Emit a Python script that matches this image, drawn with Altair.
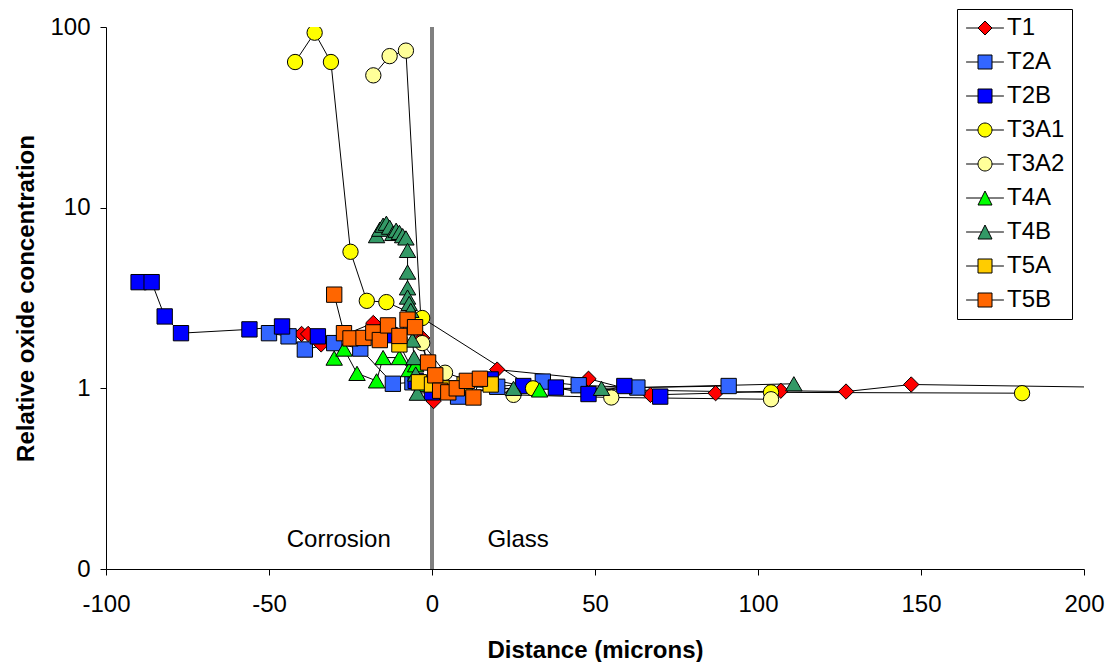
import altair as alt
import pandas as pd

series = ["T1", "T2A", "T2B", "T3A1", "T3A2", "T4A", "T4B", "T5A", "T5B"]
colors = ["#FF0000", "#3366FF", "#0000FF", "#FFFF00", "#FFFF99", "#00FF00", "#339966", "#FFCC00", "#FF6600"]
shapes = ["diamond", "square", "square", "circle", "circle", "triangle-up", "triangle-up", "square", "square"]

T1_x = [-40, -38, -34, -18, -3, 0.5, 20, 48, 67, 87, 107, 127, 147, 230]
T1_y = [2.0, 2.0, 1.75, 2.3, 1.9, 0.85, 1.27, 1.13, 0.92, 0.94, 0.97, 0.96, 1.05, 1.0]
T2A_x = [-50, -44, -39, -30, -22, -12, -6, 8, 20, 34, 45, 63, 91]
T2A_y = [2.02, 1.94, 1.64, 1.78, 1.66, 1.06, 1.08, 0.9, 1.02, 1.09, 1.04, 1.01, 1.03]
T2B_x = [-90, -86, -82, -77, -56, -46, -35, -13, -5, 0, 18, 28, 38, 48, 59, 70]
T2B_y = [3.87, 3.87, 2.5, 2.02, 2.12, 2.2, 1.94, 1.97, 1.1, 0.95, 1.12, 1.03, 1.01, 0.93, 1.03, 0.9]
T3A1_x = [-42, -36, -31, -25, -20, -14, -3, 31, 104, 181]
T3A1_y = [64, 93, 64, 5.7, 3.05, 3.0, 2.45, 1.0, 0.95, 0.94]
T3A2_x = [-18, -13, -8, -3, 4, 25, 55, 104]
T3A2_y = [54, 69, 74, 1.78, 1.22, 0.92, 0.89, 0.87]
T4A_x = [-30, -27, -23, -17, -15, -10, -7, -5, -3, 33]
T4A_y = [1.47, 1.65, 1.21, 1.1, 1.48, 1.48, 1.27, 1.35, 1.05, 0.98]
T4B_x = [-17, -16, -15, -14, -13, -12, -11, -10, -9, -8, -7.5, -7.5, -7.5, -7.5, -7, -6.5, -6, -5.5, -5, -4.5, 25, 52, 111]
T4B_y = [7.0, 7.6, 8.0, 8.2, 7.8, 7.2, 7.5, 7.3, 7.0, 6.8, 5.8, 4.4, 3.6, 3.2, 2.95, 2.7, 1.85, 1.48, 1.2, 0.94, 1.0, 1.0, 1.06]
T5A_x = [-10, -4, 0, 5, 10, 18]
T5A_y = [1.75, 1.08, 1.05, 1.0, 1.05, 1.05]
T5B_x = [-30, -27, -25, -21, -18, -16, -13.5, -10, -7.5, -5.2, -1.2, 1, 2.5, 5, 7.6, 10.7, 12.7, 14.7]
T5B_y = [3.3, 2.02, 1.89, 1.9, 2.04, 1.85, 2.23, 1.95, 2.4, 2.18, 1.39, 1.18, 0.97, 0.95, 1.0, 1.1, 0.89, 1.13]

ann_x = [-28.6, 26.4]
ann_y = [0.144, 0.144]
ann_text = ["Corrosion", "Glass"]

data_xy = {
    "T1": (T1_x, T1_y), "T2A": (T2A_x, T2A_y), "T2B": (T2B_x, T2B_y),
    "T3A1": (T3A1_x, T3A1_y), "T3A2": (T3A2_x, T3A2_y), "T4A": (T4A_x, T4A_y),
    "T4B": (T4B_x, T4B_y), "T5A": (T5A_x, T5A_y), "T5B": (T5B_x, T5B_y),
}
rows = []
for s in series:
    xs, ys = data_xy[s]
    for i, (a, b) in enumerate(zip(xs, ys)):
        rows.append({"series": s, "x": a, "y": b, "i": i, "sz": 270 if "T4" in s else 235})
df = pd.DataFrame(rows)
ann = pd.DataFrame({"x": ann_x, "y": ann_y, "t": ann_text})
zero = pd.DataFrame({"x": [0]})

FONT = "Liberation Sans"

xscale = alt.Scale(domain=[-100, 200], nice=False, zero=False)
yscale = alt.Scale(type="log", domain=[0.1, 100], nice=False)

xenc = alt.X("x:Q", scale=xscale, axis=alt.Axis(
    title="Distance (microns)", values=[-100, -50, 0, 50, 100, 150, 200], grid=False,
    labelExpr="datum.value < 0 ? '-' + abs(datum.value) : '' + datum.value",
    labelFont=FONT, labelFontSize=24, titleFont=FONT, titleFontSize=24, titleFontWeight="bold",
    labelColor="black", titleColor="black", domainColor="black", tickColor="black",
    tickSize=6, labelPadding=17, titlePadding=22, labelFlush=False))
yenc = alt.Y("y:Q", scale=yscale, axis=alt.Axis(
    title="Relative oxide concentration", values=[0.1, 1, 10, 100], grid=False,
    labelExpr="datum.value < 0.5 ? '0' : format(datum.value, 'd')",
    labelFont=FONT, labelFontSize=24, titleFont=FONT, titleFontSize=24, titleFontWeight="bold",
    labelColor="black", titleColor="black", domainColor="black", tickColor="black",
    tickSize=6, labelPadding=10, titlePadding=11, labelFlush=False))

base = alt.Chart(df)

vline = alt.Chart(zero).mark_rule(color="#808080", strokeWidth=4).encode(x=alt.X("x:Q", scale=xscale))

lines = base.mark_line(color="black", strokeWidth=1, clip=True).encode(
    x=xenc, y=yenc, detail="series:N", order="i:Q")

points = base.mark_point(filled=True, stroke="black", strokeWidth=1, opacity=1, clip=True).encode(
    x=alt.X("x:Q", scale=xscale), y=alt.Y("y:Q", scale=yscale),
    fill=alt.Fill("series:N", scale=alt.Scale(domain=series, range=colors), legend=None),
    shape=alt.Shape("series:N", scale=alt.Scale(domain=series, range=shapes), legend=None),
    size=alt.Size("sz:Q", scale=None, legend=None),
)

L = 2.7
p_diamond = f"M-{L},0H-1M1,0H{L}M-1,0L0,-1L1,0L0,1Z"
p_square = f"M-{L},0H-1M1,0H{L}M-1,-1H1V1H-1Z"
p_circle = f"M-{L},0H-1M1,0H{L}M-1,0A1,1,0,1,1,1,0A1,1,0,1,1,-1,0Z"
p_tri = f"M-{L},0H-0.5M0.5,0H{L}M0,-1L1,1H-1Z"
leg_shapes = [p_diamond, p_square, p_square, p_circle, p_circle, p_tri, p_tri, p_square, p_square]

leg = alt.Legend(title=None, orient="none", legendX=851, legendY=-18,
                 strokeColor="black", fillColor="white", padding=7,
                 labelFont=FONT, labelFontSize=24, labelColor="black",
                 symbolSize=196, symbolStrokeColor="black", symbolStrokeWidth=1,
                 rowPadding=10, labelOffset=10, symbolOffset=9)

legend_layer = base.transform_filter("datum.x > 100000").mark_point(
    filled=True, strokeWidth=1, opacity=1, size=196).encode(
    x=alt.X("x:Q", scale=xscale), y=alt.Y("y:Q", scale=yscale),
    fill=alt.Fill("series:N", scale=alt.Scale(domain=series, range=colors), legend=leg),
    shape=alt.Shape("series:N", scale=alt.Scale(domain=series, range=leg_shapes), legend=leg),
    stroke=alt.Stroke("series:N", scale=alt.Scale(domain=series, range=["black"] * 9), legend=leg),
)

text = alt.Chart(ann).mark_text(font=FONT, fontSize=24, align="center", baseline="middle", color="black").encode(
    x=alt.X("x:Q", scale=xscale), y=alt.Y("y:Q", scale=yscale), text="t:N")

chart = alt.layer(vline, lines, points, text, legend_layer).resolve_scale(
    shape="independent", fill="independent", stroke="independent"
).properties(
    width=978, height=542,
    autosize=alt.AutoSizeParams(type="none"),
    padding={"left": 106, "top": 27, "right": 26, "bottom": 93},
    background="white",
).configure_view(stroke=None)

chart.save("out.html", embed_options={"renderer": "svg", "actions": False})
